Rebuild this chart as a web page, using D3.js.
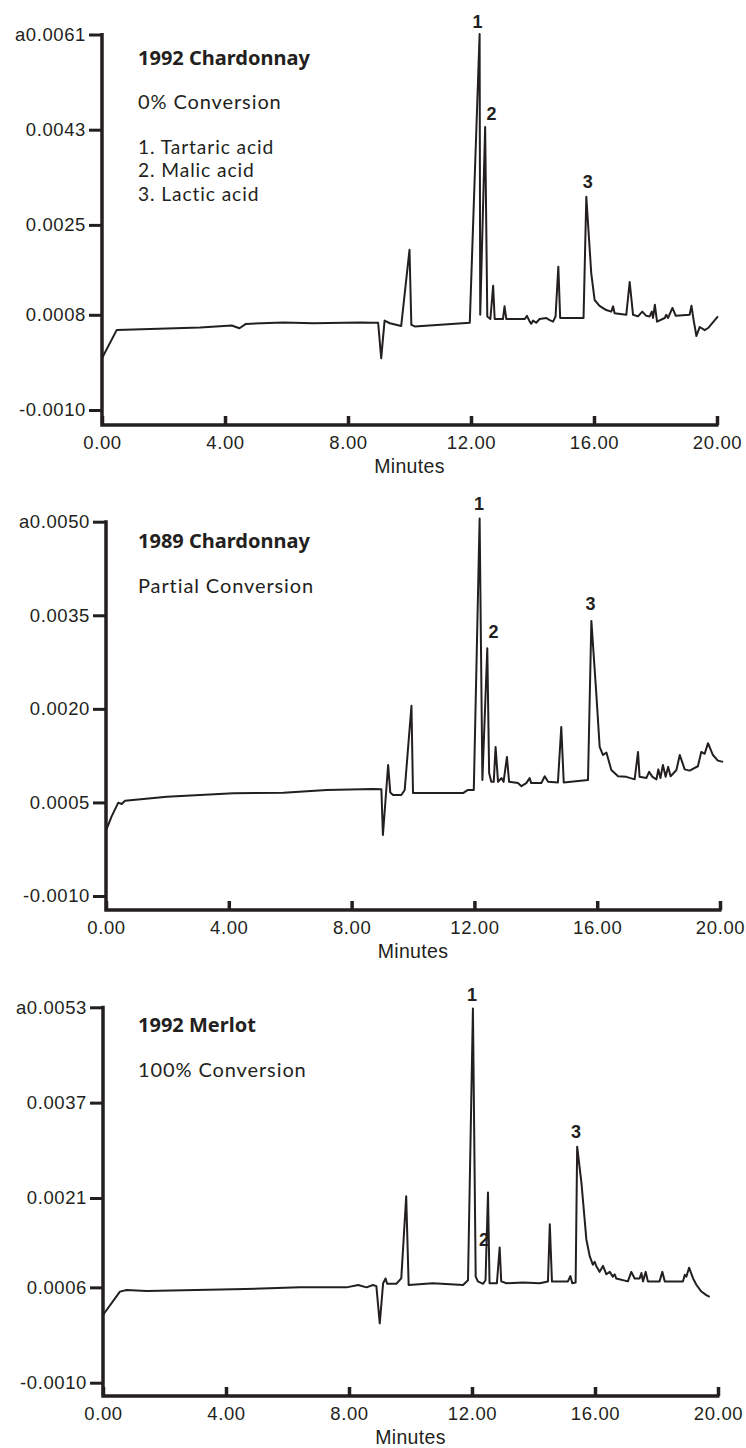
<!DOCTYPE html>
<html>
<head>
<meta charset="utf-8">
<script src="https://cdn.jsdelivr.net/npm/d3@7"></script>
<style>
  html, body { margin: 0; padding: 0; background: #fff; }
  svg { display: block; }
</style>
</head>
<body>
<div id="chart"></div>
<script>
// shared x axis, minutes
const minuteTicks = [0, 4, 8, 12, 16, 20];

// --- run 1: 1992 Chardonnay
const p1Title = "1992 Chardonnay";
const p1Notes = ["0% Conversion"];
const p1Legend = ["1. Tartaric acid", "2. Malic acid", "3. Lactic acid"];
const p1YTicks = [-0.0010, 0.0008, 0.0025, 0.0043, 0.0061];
const p1YLabels = ["-0.0010", "0.0008", "0.0025", "0.0043", "a0.0061"];
// [minutes, absorbance]
const p1Trace = [
  [0, -0.00002], [0.48, 0.000515], [3.19, 0.000559], [4.22, 0.000597], [4.47, 0.000546],
  [4.68, 0.000628], [5.90, 0.000653], [6.87, 0.000641], [8.39, 0.000653], [8.81, 0.00065],
  [8.98, 0.00065], [9.08, -0.00002], [9.19, 0.00069], [9.36, 0.00064], [9.73, 0.00059],
  [10.00, 0.00203], [10.06, 0.00061], [10.17, 0.00058], [11.96, 0.00065], [12.28, 0.00611],
  [12.30, 0.0008], [12.46, 0.00435], [12.53, 0.00077], [12.63, 0.00072], [12.72, 0.00135],
  [12.77, 0.00072], [13.04, 0.00072], [13.09, 0.00096], [13.15, 0.00072], [13.75, 0.00072],
  [13.82, 0.00078], [13.91, 0.00067], [13.96, 0.00063], [14.02, 0.00069], [14.12, 0.00065],
  [14.23, 0.00072], [14.45, 0.00074], [14.56, 0.00070], [14.67, 0.00067], [14.75, 0.00077],
  [14.84, 0.00171], [14.90, 0.00074], [15.66, 0.00074], [15.75, 0.00303], [15.91, 0.00159],
  [16.02, 0.00108], [16.18, 0.00097], [16.40, 0.00089], [16.56, 0.00086], [16.62, 0.00096],
  [16.67, 0.00083], [17.05, 0.0008], [17.16, 0.00142], [17.27, 0.0008], [17.43, 0.00077],
  [17.57, 0.00086], [17.70, 0.00078], [17.81, 0.00077], [17.88, 0.00086], [17.92, 0.00074],
  [17.98, 0.00099], [18.05, 0.00067], [18.30, 0.00074], [18.35, 0.0008], [18.41, 0.00074],
  [18.55, 0.00093], [18.66, 0.00078], [19.11, 0.0008], [19.17, 0.00097], [19.24, 0.0007],
  [19.33, 0.0004], [19.44, 0.00057], [19.60, 0.00051], [19.71, 0.00055], [20.03, 0.00077]
];
const p1Peaks = [["1", 12.21, 0.00623], ["2", 12.67, 0.00449], ["3", 15.80, 0.00320]];

// --- run 2: 1989 Chardonnay
const p2Title = "1989 Chardonnay";
const p2Notes = ["Partial Conversion"];
const p2YTicks = [-0.0010, 0.0005, 0.0020, 0.0035, 0.0050];
const p2YLabels = ["-0.0010", "0.0005", "0.0020", "0.0035", "a0.0050"];
const p2Trace = [
  [0, 0.000047], [0.18, 0.000272], [0.40, 0.000496], [0.51, 0.000475], [0.62, 0.000528],
  [1.98, 0.000592], [4.15, 0.000646], [5.78, 0.000656], [7.19, 0.000699], [8.70, 0.000715],
  [8.97, 0.00071], [9.02, -0.000022], [9.19, 0.0011], [9.26, 0.00066], [9.35, 0.00062],
  [9.62, 0.00062], [9.73, 0.0007], [9.95, 0.00205], [10.00, 0.00065], [11.63, 0.00065],
  [11.79, 0.0007], [11.98, 0.0007], [12.17, 0.00505], [12.26, 0.00086], [12.42, 0.00297],
  [12.48, 0.00097], [12.55, 0.00083], [12.63, 0.00083], [12.69, 0.00139], [12.77, 0.00083],
  [12.88, 0.00089], [12.95, 0.00083], [13.06, 0.00123], [13.13, 0.00083], [13.42, 0.00081],
  [13.53, 0.00076], [13.69, 0.00081], [13.80, 0.00089], [13.85, 0.00081], [14.18, 0.00081],
  [14.29, 0.00092], [14.40, 0.00083], [14.72, 0.00082], [14.83, 0.00171], [14.91, 0.00082],
  [15.70, 0.00086], [15.81, 0.00341], [15.97, 0.00225], [16.08, 0.00139], [16.19, 0.00126],
  [16.30, 0.0013], [16.46, 0.00102], [16.68, 0.00092], [16.95, 0.00091], [17.22, 0.00087],
  [17.33, 0.00131], [17.38, 0.00091], [17.60, 0.00089], [17.69, 0.00099], [17.80, 0.00091],
  [17.93, 0.00087], [17.99, 0.00103], [18.06, 0.00089], [18.14, 0.0011], [18.23, 0.00091],
  [18.31, 0.00107], [18.39, 0.00092], [18.47, 0.00096], [18.58, 0.00102], [18.69, 0.00126],
  [18.85, 0.00103], [19.01, 0.00101], [19.28, 0.00108], [19.39, 0.00131], [19.50, 0.00128],
  [19.61, 0.00145], [19.77, 0.00126], [19.93, 0.00117], [20.10, 0.00115]
];
const p2Peaks = [["1", 12.15, 0.00518], ["2", 12.62, 0.00313], ["3", 15.78, 0.00359]];

// --- run 3: 1992 Merlot
const p3Title = "1992 Merlot";
const p3Notes = ["100% Conversion"];
const p3YTicks = [-0.0010, 0.0006, 0.0021, 0.0037, 0.0053];
const p3YLabels = ["-0.0010", "0.0006", "0.0021", "0.0037", "a0.0053"];
const p3Trace = [
  [0, 0.000136], [0.55, 0.000528], [0.77, 0.000556], [1.42, 0.000539], [4.24, 0.000567],
  [6.41, 0.0006], [7.92, 0.0006], [8.30, 0.00064], [8.57, 0.0006], [8.78, 0.00064],
  [8.89, 0.00062], [9.00, -0.000004], [9.11, 0.00067], [9.19, 0.00075], [9.24, 0.00066],
  [9.54, 0.00066], [9.70, 0.00075], [9.86, 0.00213], [9.94, 0.00064], [10.73, 0.00067],
  [11.71, 0.00064], [11.87, 0.00072], [12.03, 0.00528], [12.12, 0.00078], [12.19, 0.0007],
  [12.36, 0.00066], [12.44, 0.00072], [12.52, 0.00219], [12.57, 0.00067], [12.81, 0.00067],
  [12.90, 0.00127], [12.95, 0.0007], [13.12, 0.00067], [13.66, 0.00068], [14.20, 0.00067],
  [14.47, 0.0007], [14.53, 0.00166], [14.60, 0.0007], [15.12, 0.0007], [15.20, 0.00079],
  [15.26, 0.00067], [15.37, 0.00068], [15.42, 0.00296], [15.56, 0.00235], [15.72, 0.0014],
  [15.83, 0.00112], [15.93, 0.00098], [15.99, 0.00103], [16.04, 0.00096], [16.15, 0.00086],
  [16.26, 0.00096], [16.37, 0.00082], [16.48, 0.00086], [16.58, 0.00078], [16.64, 0.00082],
  [16.69, 0.00075], [17.07, 0.0007], [17.18, 0.00086], [17.29, 0.00075], [17.45, 0.00075],
  [17.51, 0.00084], [17.56, 0.0007], [17.65, 0.00086], [17.72, 0.0007], [18.10, 0.0007],
  [18.19, 0.00086], [18.27, 0.0007], [18.86, 0.0007], [18.92, 0.00081], [18.97, 0.00078],
  [19.06, 0.00093], [19.19, 0.00075], [19.30, 0.00064], [19.46, 0.00053], [19.62, 0.00047],
  [19.73, 0.00044]
];
const p3Peaks = [["1", 12.00, 0.00541], ["2", 12.39, 0.00130], ["3", 15.38, 0.00310]];

// layout of the three stacked panels (pixels)
const panels = [
  { title: p1Title, notes: p1Notes, legend: p1Legend, yTicks: p1YTicks, yLabels: p1YLabels,
    trace: p1Trace, peaks: p1Peaks,
    left: 102, right: 717, top: 34.5, bottom: 410, axisY: 425, titleY: 65, noteY: 109, legendY: 154 },
  { title: p2Title, notes: p2Notes, legend: [], yTicks: p2YTicks, yLabels: p2YLabels,
    trace: p2Trace, peaks: p2Peaks,
    left: 106, right: 720, top: 521.7, bottom: 896, axisY: 910, titleY: 548.3, noteY: 593.3, legendY: 0 },
  { title: p3Title, notes: p3Notes, legend: [], yTicks: p3YTicks, yLabels: p3YLabels,
    trace: p3Trace, peaks: p3Peaks,
    left: 103, right: 718, top: 1007.3, bottom: 1382.7, axisY: 1396, titleY: 1031.7, noteY: 1076.7, legendY: 0 }
];

const ink = "#231f20";
const tickFont = "'Liberation Sans', Arial, Helvetica, sans-serif";
const titleFont = "'Noto Sans', 'Open Sans', sans-serif";
const noteFont = "Lato, 'Noto Sans', sans-serif";

const svg = d3.select("#chart").append("svg")
  .attr("width", 746)
  .attr("height", 1448);

function drawPanel(p) {
  const g = svg.append("g");

  const x = d3.scaleLinear().domain([0, 20]).range([p.left, p.right]);
  const y = d3.scaleLinear()
    .domain([d3.min(p.yTicks), d3.max(p.yTicks)])
    .range([p.bottom, p.top]);

  // y axis ticks + labels
  const yAxis = d3.axisLeft(y)
    .tickValues(p.yTicks)
    .tickFormat((d, i) => p.yLabels[i])
    .tickSize(13)
    .tickSizeOuter(0)
    .tickPadding(3);
  const ya = g.append("g")
    .attr("transform", `translate(${p.left},0)`)
    .call(yAxis);
  ya.select(".domain").remove();
  ya.selectAll(".tick line").attr("stroke", ink).attr("stroke-width", 3);
  ya.selectAll(".tick text")
    .attr("fill", ink)
    .attr("font-family", tickFont)
    .attr("font-size", 18.5)
    .attr("letter-spacing", "0.6px");

  // x axis, ticks pointing up into the plot
  const xAxis = d3.axisBottom(x)
    .tickValues(minuteTicks)
    .tickFormat(d3.format(".2f"))
    .tickSize(-9)
    .tickSizeOuter(0)
    .tickPadding(11);
  const xa = g.append("g")
    .attr("transform", `translate(0,${p.axisY})`)
    .call(xAxis);
  xa.select(".domain").remove();
  xa.selectAll(".tick line").attr("stroke", ink).attr("stroke-width", 3.5);
  xa.selectAll(".tick text")
    .attr("fill", ink)
    .attr("font-family", tickFont)
    .attr("font-size", 18.5)
    .attr("letter-spacing", "0.6px");

  // axis frame lines
  g.append("path")
    .attr("d", `M${p.left},${p.top - 1.5}V${p.axisY}H${p.right + 1.5}`)
    .attr("fill", "none")
    .attr("stroke", ink)
    .attr("stroke-width", 3.5)
    .attr("stroke-linejoin", "miter");

  g.append("text")
    .attr("x", (p.left + p.right) / 2)
    .attr("y", p.axisY + 48)
    .attr("text-anchor", "middle")
    .attr("fill", ink)
    .attr("font-family", tickFont)
    .attr("font-size", 19.5)
    .attr("letter-spacing", "0.3px")
    .text("Minutes");

  // the chromatogram
  const line = d3.line()
    .x(d => x(d[0]))
    .y(d => y(d[1]));
  g.append("path")
    .datum(p.trace)
    .attr("d", line)
    .attr("fill", "none")
    .attr("stroke", ink)
    .attr("stroke-width", 2)
    .attr("stroke-linejoin", "round");

  // peak numbers
  g.selectAll(".peak")
    .data(p.peaks)
    .join("text")
    .attr("class", "peak")
    .attr("x", d => x(d[1]))
    .attr("y", d => y(d[2]))
    .attr("text-anchor", "middle")
    .attr("fill", ink)
    .attr("font-family", tickFont)
    .attr("font-weight", "bold")
    .attr("font-size", 18)
    .text(d => d[0]);

  // sample name, conversion note, legend
  g.append("text")
    .attr("x", 138)
    .attr("y", p.titleY)
    .attr("fill", ink)
    .attr("font-family", titleFont)
    .attr("font-weight", "bold")
    .attr("font-size", 20)
    .text(p.title);

  g.selectAll(".note")
    .data(p.notes)
    .join("text")
    .attr("class", "note")
    .attr("x", 138)
    .attr("y", p.noteY)
    .attr("fill", ink)
    .attr("font-family", noteFont)
    .attr("font-size", 20)
    .attr("letter-spacing", "0.9px")
    .text(d => d);

  g.selectAll(".legend")
    .data(p.legend)
    .join("text")
    .attr("class", "legend")
    .attr("x", 138)
    .attr("y", (d, i) => p.legendY + i * 23.3)
    .attr("fill", ink)
    .attr("font-family", noteFont)
    .attr("font-size", 19.2)
    .attr("letter-spacing", "0.9px")
    .text(d => d);
}

panels.forEach(drawPanel);
</script>
</body>
</html>
